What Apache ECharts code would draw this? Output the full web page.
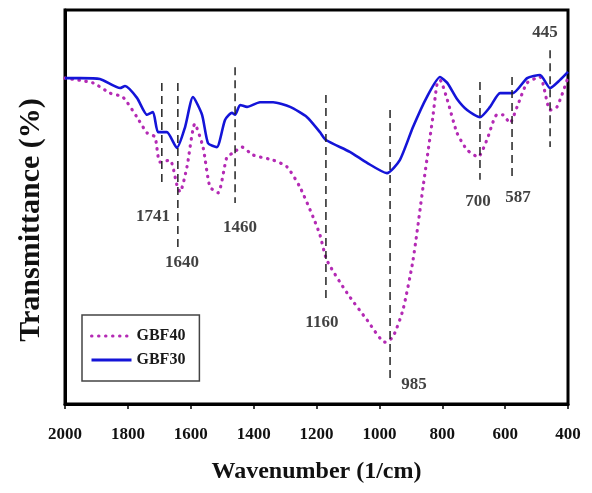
<!DOCTYPE html>
<html>
<head>
<meta charset="utf-8">
<script src="https://cdn.jsdelivr.net/npm/echarts@6/dist/echarts.min.js"></script>
<style>
  html, body { margin: 0; padding: 0; background: #fff; }
  #chart { width: 592px; height: 493px; }
</style>
</head>
<body>
<div id="chart"></div>
<script>
// FTIR spectra, wavenumber (1/cm) vs transmittance (arbitrary %)
const gbf40 = [
  [2000, 82.7], [1911, 81.5], [1857, 78.9], [1816, 77.9], [1771, 72.8], [1739, 68.8],
  [1714, 67.8], [1698, 61.4], [1666, 61.9], [1644, 55.6], [1634, 53.8], [1612, 60.2],
  [1587, 71.1], [1561, 65.2], [1539, 55.1], [1513, 53.6], [1485, 62.7], [1466, 63.7],
  [1437, 65.2], [1402, 63.2], [1338, 61.9], [1294, 60.2], [1253, 55.1], [1211, 47.5],
  [1189, 42.9], [1167, 36.5], [1103, 28.2], [1039, 21.3], [982, 15.7], [957, 17.0],
  [925, 23.9], [893, 36.5], [861, 55.1], [830, 72.8], [817, 81.0], [807, 82.2],
  [784, 77.2], [753, 68.8], [721, 64.5], [686, 62.7], [658, 67.0], [626, 73.4],
  [607, 73.4], [585, 71.3], [562, 75.4], [530, 81.5], [489, 83.0], [457, 74.6],
  [435, 75.4], [403, 82.2]
];
const gbf30 = [
  [2000, 82.7], [1952, 82.7], [1889, 82.5], [1825, 80.2], [1809, 80.7], [1771, 77.7],
  [1739, 73.4], [1720, 74.1], [1704, 69.0], [1676, 69.0], [1644, 65.0], [1618, 70.3],
  [1593, 77.9], [1564, 73.4], [1545, 66.2], [1517, 65.2], [1491, 72.1], [1469, 73.9],
  [1459, 73.4], [1443, 75.9], [1421, 75.4], [1380, 76.6], [1338, 76.6], [1284, 75.4],
  [1230, 72.8], [1189, 69.0], [1170, 67.0], [1094, 64.0], [1039, 61.2], [976, 58.6],
  [935, 61.9], [893, 70.3], [849, 77.9], [807, 83.0], [784, 81.5], [753, 77.4],
  [721, 74.6], [680, 72.8], [648, 75.4], [616, 78.9], [575, 78.9], [530, 82.7],
  [489, 83.5], [457, 80.2], [426, 82.2], [400, 84.3]
];

const peakLabels = ['1741', '1640', '1460', '1160', '985', '700', '587', '445'];
const peakLineX = [1692, 1641, 1459, 1170, 966, 680, 578, 457];
const peakLineTop = [81.5, 81.5, 85.5, 78.4, 74.6, 81.7, 83.0, 89.8];
const peakLineBottom = [55.1, 39.1, 51.0, 26.4, 5.3, 56.9, 57.6, 65.2];
const peakLabelX = [1720, 1628, 1443, 1183, 890, 686, 559, 473];
const peakLabelY = [47.5, 35.8, 44.7, 20.6, 4.8, 51.3, 52.5, 94.2];

const serif = '"Liberation Serif", "Times New Roman", serif';

// dashed guide lines, broken apart with nulls
const guides = [];
peakLineX.forEach((x, i) => {
  guides.push([x, peakLineTop[i]], [x, peakLineBottom[i]], '-');
});

const labelPoints = peakLabels.map((t, i) => ({ name: t, value: [peakLabelX[i], peakLabelY[i]] }));

const myChart = echarts.init(document.getElementById('chart'), null, { renderer: 'canvas' });

const option = {
  animation: false,
  grid: {
    left: 65, right: 24, top: 10, bottom: 89,
    show: true, borderColor: '#000', borderWidth: 3
  },
  legend: {
    data: ['GBF40', 'GBF30'],
    orient: 'vertical',
    left: 82, top: 315,
    itemWidth: 40, itemHeight: 14, itemGap: 8,
    padding: [13, 14, 13, 8],
    borderColor: '#444', borderWidth: 1.5,
    itemStyle: { opacity: 0 },
    lineStyle: { width: 3 },
    textStyle: { fontFamily: serif, fontWeight: 'bold', fontSize: 16, color: '#1a1a1a' }
  },
  xAxis: {
    type: 'value',
    inverse: true,
    min: 400, max: 2000, interval: 200,
    name: 'Wavenumber (1/cm)',
    nameLocation: 'middle',
    nameGap: 56,
    nameTextStyle: { fontFamily: serif, fontWeight: 'bold', fontSize: 24, color: '#111' },
    axisLine: { lineStyle: { color: '#000', width: 3 } },
    axisTick: { show: true, length: 5, lineStyle: { color: '#000', width: 1.5 } },
    axisLabel: {
      margin: 22, fontFamily: serif, fontWeight: 'bold', fontSize: 17, color: '#111',
      formatter: v => String(v)
    },
    splitLine: { show: false }
  },
  yAxis: {
    type: 'value',
    min: 0, max: 100,
    name: 'Transmittance (%)',
    nameLocation: 'middle',
    nameGap: 19,
    nameTextStyle: {
      fontFamily: serif, fontWeight: 'bold', fontSize: 30, color: '#111',
      padding: [0, 26, 0, 0]
    },
    axisLine: { show: true, lineStyle: { color: '#000', width: 3 } },
    axisTick: { show: false },
    axisLabel: { show: false },
    splitLine: { show: false }
  },
  series: [
    {
      name: 'GBF40',
      type: 'line',
      data: gbf40,
      symbol: 'none',
      smooth: 0.2,
      color: '#b42ab4',
      lineStyle: { color: '#b42ab4', width: 3.2, type: [0.5, 6.5], cap: 'round' },
      z: 3
    },
    {
      name: 'GBF30',
      type: 'line',
      data: gbf30,
      symbol: 'none',
      smooth: 0.2,
      color: '#1414d8',
      lineStyle: { color: '#1414d8', width: 2.6 },
      z: 4
    },
    {
      name: 'guides',
      type: 'line',
      data: guides,
      symbol: 'none',
      connectNulls: false,
      lineStyle: { color: '#222', width: 1.5, type: [8, 5] },
      silent: true,
      z: 5
    },
    {
      name: 'peaks',
      type: 'scatter',
      data: labelPoints,
      symbolSize: 0,
      silent: true,
      label: {
        show: true,
        position: 'inside',
        formatter: p => p.name,
        fontFamily: serif, fontWeight: 'bold', fontSize: 17, color: '#111'
      },
      z: 6
    }
  ]
};

myChart.setOption(option);
</script>
</body>
</html>
